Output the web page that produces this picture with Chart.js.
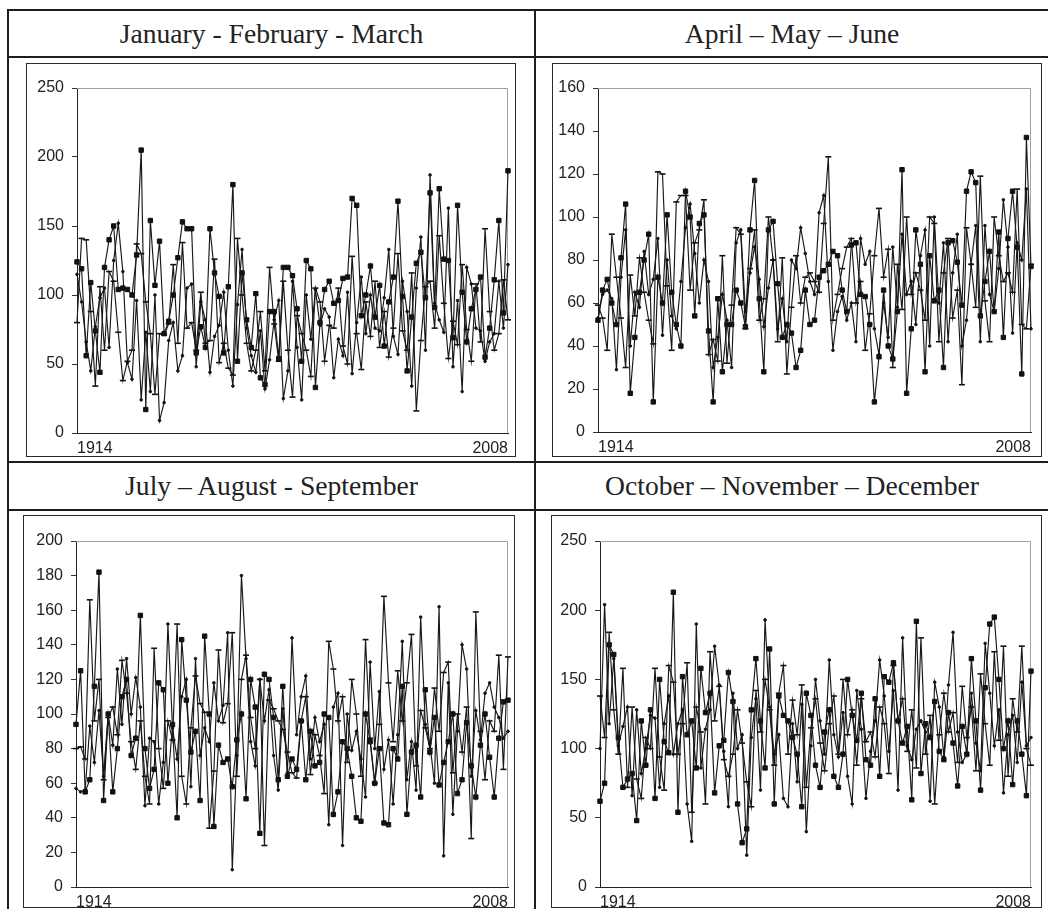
<!DOCTYPE html>
<html>
<head>
<meta charset="utf-8">
<script src="https://cdn.jsdelivr.net/npm/chart.js@4.4.1/dist/chart.umd.min.js"></script>
<style>
    body { margin: 0; background: #fff; }
    #hoja { position: relative; width: 1048px; height: 909px; overflow: hidden; background: #fff; }
    .linea { position: absolute; background: #1e1e1e; }
    .titulo {
        position: absolute; text-align: center;
        font-family: 'Liberation Serif', 'Times New Roman', serif;
        font-size: 27.6px; color: #222; line-height: 47px; height: 47px;
    }
    .caja { position: absolute; box-sizing: border-box; border: 1px solid #2a2a2a; }
    .caja canvas { position: absolute; left: 0; top: 0; }
</style>
</head>
<body>
<div id="hoja">
    <!-- rejilla de la tabla -->
    <div class="linea" style="left:7px;top:9px;width:1041px;height:2px"></div>
    <div class="linea" style="left:7px;top:56px;width:1041px;height:2px"></div>
    <div class="linea" style="left:7px;top:461px;width:1041px;height:2px"></div>
    <div class="linea" style="left:7px;top:509px;width:1041px;height:2px"></div>
    <div class="linea" style="left:7px;top:9px;width:2px;height:900px"></div>
    <div class="linea" style="left:534px;top:9px;width:2px;height:900px"></div>

    <div class="titulo" style="left:9px;top:10px;width:525px">January - February - March</div>
    <div class="titulo" style="left:536px;top:10px;width:512px">April – May – June</div>
    <div class="titulo" style="left:9px;top:462px;width:525px">July – August - September</div>
    <div class="titulo" style="left:536px;top:462px;width:512px">October – November – December</div>

    <div class="caja" id="caja1"><canvas id="chartEneMar"></canvas></div>
    <div class="caja" id="caja2"><canvas id="chartAbrJun"></canvas></div>
    <div class="caja" id="caja3"><canvas id="chartJulSep"></canvas></div>
    <div class="caja" id="caja4"><canvas id="chartOctDic"></canvas></div>
</div>

<script>
// Años 1914 - 2008
const anios = [
    1914, 1915, 1916, 1917, 1918, 1919, 1920, 1921, 1922, 1923,
    1924, 1925, 1926, 1927, 1928, 1929, 1930, 1931, 1932, 1933,
    1934, 1935, 1936, 1937, 1938, 1939, 1940, 1941, 1942, 1943,
    1944, 1945, 1946, 1947, 1948, 1949, 1950, 1951, 1952, 1953,
    1954, 1955, 1956, 1957, 1958, 1959, 1960, 1961, 1962, 1963,
    1964, 1965, 1966, 1967, 1968, 1969, 1970, 1971, 1972, 1973,
    1974, 1975, 1976, 1977, 1978, 1979, 1980, 1981, 1982, 1983,
    1984, 1985, 1986, 1987, 1988, 1989, 1990, 1991, 1992, 1993,
    1994, 1995, 1996, 1997, 1998, 1999, 2000, 2001, 2002, 2003,
    2004, 2005, 2006, 2007, 2008
];

// Enero - Febrero - Marzo
const eneMarCuadros = [
    124, 119, 56, 109, 74, 44, 120, 140, 150, 104,
    105, 104, 100, 129, 205, 17, 154, 107, 139, 72,
    81, 100, 127, 153, 148, 148, 58, 77, 62, 148,
    116, 99, 58, 106, 180, 52, 116, 82, 62, 101,
    40, 35, 88, 88, 54, 120, 120, 114, 90, 52,
    125, 119, 33, 80, 104, 110, 94, 96, 112, 113,
    170, 165, 85, 100, 121, 84, 107, 63, 95, 113,
    168, 99, 45, 84, 123, 131, 98, 174, 91, 177,
    126, 125, 69, 165, 102, 66, 90, 104, 113, 55,
    76, 111, 154, 87, 190
];
const eneMarGuiones = [
    80, 141, 140, 88, 34, 106, 60, 117, 110, 73,
    38, 52, 60, 137, 130, 95, 72, 28, 72, 71,
    79, 122, 65, 138, 76, 80, 60, 102, 65, 67,
    126, 51, 65, 47, 42, 141, 100, 65, 45, 60,
    88, 45, 120, 79, 52, 110, 60, 26, 85, 72,
    60, 41, 105, 95, 52, 78, 76, 105, 63, 50,
    128, 72, 46, 95, 70, 110, 62, 88, 55, 76,
    130, 74, 60, 116, 16, 67, 106, 110, 76, 143,
    94, 54, 81, 64, 122, 75, 52, 108, 66, 148,
    88, 60, 72, 111, 82
];
const eneMarPuntos = [
    115, 95, 66, 45, 77, 98, 105, 62, 125, 152,
    117, 51, 39, 96, 24, 73, 30, 100, 9, 22,
    67, 80, 45, 56, 105, 108, 48, 95, 82, 44,
    70, 78, 102, 60, 34, 93, 133, 76, 56, 44,
    74, 32, 53, 82, 96, 25, 45, 110, 62, 24,
    100, 68, 104, 78, 90, 84, 40, 68, 56, 102,
    43, 80, 113, 72, 100, 76, 74, 98, 133, 70,
    57, 110, 88, 34, 105, 142, 60, 187, 94, 82,
    73, 163, 48, 96, 30, 120, 108, 76, 74, 52,
    66, 72, 110, 76, 122
];

// Abril - Mayo - Junio
const abrJunCuadros = [
    52, 66, 71, 60, 50, 81, 106, 18, 44, 65,
    80, 92, 14, 72, 60, 101, 65, 50, 40, 112,
    100, 54, 97, 101, 47, 14, 62, 28, 50, 50,
    66, 60, 49, 94, 117, 62, 28, 94, 98, 69,
    44, 50, 46, 30, 38, 66, 50, 52, 72, 75,
    78, 84, 82, 66, 56, 87, 88, 64, 63, 50,
    14, 35, 66, 40, 34, 56, 122, 18, 48, 94,
    78, 28, 82, 61, 66, 30, 88, 89, 79, 59,
    112, 121, 116, 54, 70, 84, 56, 93, 44, 90,
    112, 86, 27, 137, 77
];
const abrJunGuiones = [
    59, 53, 38, 92, 72, 53, 30, 73, 54, 81,
    65, 52, 41, 121, 120, 68, 38, 107, 110, 110,
    66, 88, 94, 108, 36, 43, 33, 82, 32, 59,
    95, 92, 48, 76, 94, 52, 62, 100, 80, 42,
    81, 27, 58, 82, 60, 72, 74, 70, 65, 97,
    128, 52, 64, 76, 86, 90, 60, 70, 38, 55,
    82, 104, 72, 85, 30, 78, 57, 100, 64, 74,
    66, 52, 100, 97, 42, 74, 90, 53, 66, 22,
    95, 78, 58, 119, 61, 42, 100, 82, 70, 74,
    65, 113, 50, 48, 78
];
const abrJunPuntos = [
    53, 64, 66, 62, 29, 72, 94, 40, 65, 58,
    84, 64, 71, 90, 45, 80, 54, 48, 70, 95,
    106, 83, 60, 80, 70, 30, 44, 64, 52, 30,
    88, 94, 56, 74, 86, 71, 49, 67, 80, 48,
    62, 42, 80, 76, 95, 83, 70, 64, 102, 110,
    70, 38, 56, 63, 52, 60, 42, 90, 78, 84,
    48, 36, 60, 44, 86, 58, 92, 64, 70, 50,
    82, 94, 40, 100, 60, 88, 42, 74, 92, 40,
    52, 78, 96, 42, 96, 64, 56, 76, 108, 86,
    46, 88, 80, 113, 48
];

// Julio - Agosto - Septiembre
const julSepCuadros = [
    94, 125, 55, 62, 116, 182, 50, 100, 55, 80,
    110, 120, 76, 86, 157, 80, 57, 68, 118, 114,
    60, 94, 40, 143, 108, 78, 90, 50, 145, 100,
    35, 82, 72, 74, 58, 85, 100, 51, 120, 104,
    31, 123, 120, 98, 62, 116, 64, 74, 68, 96,
    62, 90, 70, 72, 100, 98, 42, 55, 84, 80,
    64, 40, 38, 100, 84, 60, 80, 37, 36, 80,
    74, 116, 42, 78, 82, 52, 114, 78, 98, 59,
    72, 84, 100, 54, 62, 95, 70, 52, 82, 100,
    75, 52, 86, 107, 108
];
const julSepGuiones = [
    80, 81, 74, 166, 96, 120, 62, 98, 104, 88,
    131, 112, 84, 68, 96, 64, 48, 138, 80, 57,
    96, 85, 152, 64, 48, 92, 122, 106, 101, 34,
    67, 137, 95, 106, 147, 64, 120, 134, 98, 80,
    120, 24, 108, 103, 96, 91, 78, 66, 63, 96,
    110, 65, 88, 76, 54, 142, 126, 96, 110, 72,
    120, 100, 64, 143, 86, 60, 94, 168, 118, 84,
    125, 96, 118, 146, 70, 102, 92, 80, 115, 90,
    124, 130, 66, 100, 78, 104, 28, 159, 90, 62,
    96, 90, 134, 68, 133
];
const julSepPuntos = [
    57, 55, 56, 93, 72, 102, 64, 100, 82, 126,
    94, 132, 100, 121, 104, 47, 86, 84, 48, 72,
    152, 92, 74, 110, 120, 58, 132, 76, 92, 84,
    118, 96, 105, 147, 10, 76, 180, 132, 84, 70,
    120, 96, 114, 76, 56, 103, 66, 144, 88, 110,
    122, 74, 98, 84, 94, 36, 104, 112, 24, 100,
    79, 90, 74, 52, 130, 80, 113, 68, 85, 48,
    88, 142, 62, 84, 56, 156, 94, 83, 60, 162,
    18, 118, 42, 90, 140, 126, 64, 102, 85, 112,
    118, 104, 98, 86, 90
];

// Octubre - Noviembre - Diciembre
const octDicCuadros = [
    62, 75, 175, 168, 108, 72, 78, 82, 48, 120,
    88, 128, 64, 150, 105, 97, 213, 54, 152, 110,
    120, 86, 158, 126, 140, 68, 102, 106, 155, 134,
    60, 32, 42, 128, 165, 120, 86, 172, 60, 138,
    124, 120, 108, 96, 58, 140, 124, 88, 72, 112,
    128, 80, 72, 96, 150, 124, 106, 140, 92, 88,
    136, 80, 152, 148, 162, 120, 104, 116, 63, 192,
    82, 118, 108, 134, 98, 92, 126, 104, 73, 116,
    96, 165, 120, 70, 144, 190, 195, 150, 100, 120,
    74, 120, 96, 66, 156
];
const octDicGuiones = [
    138, 108, 184, 128, 96, 158, 72, 130, 78, 64,
    108, 100, 158, 94, 70, 160, 148, 96, 118, 162,
    54, 130, 112, 60, 170, 120, 145, 92, 80, 96,
    128, 104, 76, 58, 142, 112, 150, 128, 88, 140,
    160, 96, 135, 110, 146, 72, 115, 136, 104, 84,
    118, 138, 96, 150, 110, 128, 88, 136, 105, 112,
    94, 130, 118, 82, 160, 120, 136, 98, 128, 86,
    180, 96, 124, 60, 110, 140, 112, 126, 90, 145,
    108, 130, 84, 154, 118, 88, 170, 106, 174, 80,
    136, 112, 174, 100, 88
];
const octDicPuntos = [
    100, 204, 118, 165, 102, 116, 130, 66, 128, 82,
    100, 124, 122, 72, 118, 138, 96, 118, 128, 60,
    33, 190, 86, 114, 128, 174, 146, 98, 58, 140,
    100, 110, 23, 108, 136, 70, 193, 130, 96, 110,
    64, 58, 118, 76, 132, 40, 102, 150, 120, 96,
    164, 110, 94, 126, 80, 60, 142, 114, 64, 98,
    120, 164, 138, 98, 142, 70, 180, 102, 92, 114,
    120, 112, 62, 148, 130, 94, 146, 184, 112, 90,
    96, 140, 104, 84, 176, 140, 102, 128, 68, 110,
    124, 90, 148, 102, 108
];

// Marco gris arriba y a la derecha del área de trazado
const marcoGris = {
    id: 'marcoGris',
    beforeDatasetsDraw(chart) {
        const { ctx, chartArea } = chart;
        ctx.save();
        ctx.strokeStyle = '#a0a0a0';
        ctx.lineWidth = 1;
        ctx.beginPath();
        ctx.moveTo(chartArea.left, Math.round(chartArea.top) + 0.5);
        ctx.lineTo(Math.round(chartArea.right) - 0.5, Math.round(chartArea.top) + 0.5);
        ctx.lineTo(Math.round(chartArea.right) - 0.5, chartArea.bottom);
        ctx.stroke();
        ctx.restore();
    }
};

const serie = (datos, estilo, radio, grosor) => ({
    data: datos,
    borderColor: '#181818',
    backgroundColor: '#181818',
    borderWidth: 1.15,
    pointStyle: estilo,
    pointRadius: radio,
    pointBorderWidth: grosor,
    pointBackgroundColor: '#111',
    pointBorderColor: '#111',
    tension: 0,
    clip: 6
});

// caja: borde del recuadro; area: límites del área de trazado (px de la página)
const crearGrafica = (idCaja, idCanvas, caja, area, yMax, paso, cuadros, guiones, puntos) => {
    const divCaja = document.getElementById(idCaja);
    divCaja.style.left = caja.x + 'px';
    divCaja.style.top = caja.y + 'px';
    divCaja.style.width = caja.w + 'px';
    divCaja.style.height = caja.h + 'px';

    const canvas = document.getElementById(idCanvas);
    canvas.width = caja.w - 2;
    canvas.height = caja.h - 2;
    canvas.style.width = (caja.w - 2) + 'px';
    canvas.style.height = (caja.h - 2) + 'px';

    const anchoEjeY = area.l - (caja.x + 1);
    const altoEjeX = (caja.y + caja.h - 1) - area.b;
    const margenArriba = area.t - (caja.y + 1);
    const margenDerecha = (caja.x + caja.w - 1) - area.r;

    return new Chart(canvas.getContext('2d'), {
        type: 'line',
        data: {
            labels: anios,
            datasets: [
                serie(puntos, 'circle', 1.3, 1),
                serie(guiones, 'line', 3, 1.6),
                serie(cuadros, 'rect', 3.1, 1)
            ]
        },
        options: {
            responsive: false,
            animation: false,
            events: [],
            layout: { padding: { top: margenArriba, right: margenDerecha, left: 0, bottom: 0 } },
            plugins: {
                legend: { display: false },
                tooltip: { enabled: false },
                title: { display: false }
            },
            scales: {
                x: {
                    type: 'category',
                    offset: false,
                    grid: { display: false, drawTicks: false },
                    border: { display: true, color: '#222', width: 1 },
                    ticks: {
                        autoSkip: false,
                        maxRotation: 0,
                        minRotation: 0,
                        align: 'inner',
                        padding: 6,
                        color: '#222',
                        font: { family: "'Liberation Sans', Arial, sans-serif", size: 16 },
                        callback: (valor, i) => (i === 0 || i === anios.length - 1) ? String(anios[i]) : ''
                    },
                    afterFit: (eje) => { eje.height = altoEjeX; }
                },
                y: {
                    min: 0,
                    max: yMax,
                    grid: {
                        display: true,
                        drawOnChartArea: false,
                        drawTicks: true,
                        tickLength: 5,
                        color: '#333'
                    },
                    border: { display: true, color: '#222', width: 1 },
                    ticks: {
                        stepSize: paso,
                        padding: 8,
                        color: '#222',
                        font: { family: "'Liberation Sans', Arial, sans-serif", size: 16 }
                    },
                    afterFit: (eje) => { eje.width = anchoEjeY; }
                }
            }
        },
        plugins: [marcoGris]
    });
};

document.addEventListener('DOMContentLoaded', () => {
    crearGrafica('caja1', 'chartEneMar', { x: 26, y: 63, w: 490, h: 394 }, { l: 77, r: 508, t: 88, b: 433 }, 250, 50,
        eneMarCuadros, eneMarGuiones, eneMarPuntos);
    crearGrafica('caja2', 'chartAbrJun', { x: 552, y: 63, w: 490, h: 394 }, { l: 598, r: 1031, t: 88, b: 432 }, 160, 20,
        abrJunCuadros, abrJunGuiones, abrJunPuntos);
    crearGrafica('caja3', 'chartJulSep', { x: 23, y: 515, w: 492, h: 393 }, { l: 76, r: 508, t: 541, b: 887 }, 200, 20,
        julSepCuadros, julSepGuiones, julSepPuntos);
    crearGrafica('caja4', 'chartOctDic', { x: 551, y: 515, w: 491, h: 393 }, { l: 600, r: 1031, t: 541, b: 887 }, 250, 50,
        octDicCuadros, octDicGuiones, octDicPuntos);
});
</script>
</body>
</html>
